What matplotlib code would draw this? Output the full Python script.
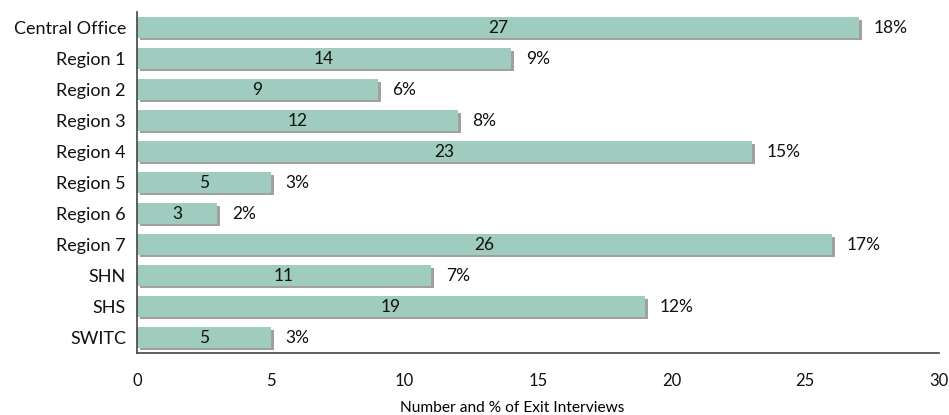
import matplotlib.pyplot as plt
import matplotlib.patheffects as pe

plt.rcParams['font.family'] = ['Lato', 'DejaVu Sans']

offices = ["Central Office", "Region 1", "Region 2", "Region 3", "Region 4", "Region 5",
           "Region 6", "Region 7", "SHN", "SHS", "SWITC"]
counts = [27, 14, 9, 12, 23, 5, 3, 26, 11, 19, 5]
percents = [18, 9, 6, 8, 15, 3, 2, 17, 7, 12, 3]

fig = plt.figure(figsize=(9.49, 4.15), dpi=100)
ax = fig.add_axes([0.1444, 0.149, 0.845, 0.822])

ypos = range(len(offices))
bars = ax.barh(ypos, counts, height=0.66, color="#a0cbbf", edgecolor="none")
for b in bars:
    b.set_path_effects([pe.SimplePatchShadow(offset=(2.2, -1.8), shadow_rgbFace="#909090", alpha=0.85),
                        pe.Normal()])

for y, c, p in zip(ypos, counts, percents):
    ax.text(c / 2, y, str(c), ha="center", va="center", fontsize=12.5, color="#111111")
    ax.text(c + 0.55, y, f"{p}%", ha="left", va="center", fontsize=12.5, color="#111111")

ax.set_yticks(list(ypos))
ax.set_yticklabels(offices, fontsize=13)
ax.set_ylim(len(offices) - 0.5, -0.5)
ax.set_xlim(0, 30)
ax.set_xticks([0, 5, 10, 15, 20, 25, 30])
ax.tick_params(axis="both", length=0, colors="#111111")
ax.tick_params(axis="x", pad=14, labelsize=12)
ax.tick_params(axis="y", pad=8)
ax.set_xlabel("Number and % of Exit Interviews", fontsize=11.2, va="center")
ax.xaxis.set_label_coords(0.468, -0.16)

for side in ["top", "right"]:
    ax.spines[side].set_visible(False)
for side in ["left", "bottom"]:
    ax.spines[side].set_color("#444444")
    ax.spines[side].set_linewidth(1.2)

fig.savefig("out.png", dpi=100)
